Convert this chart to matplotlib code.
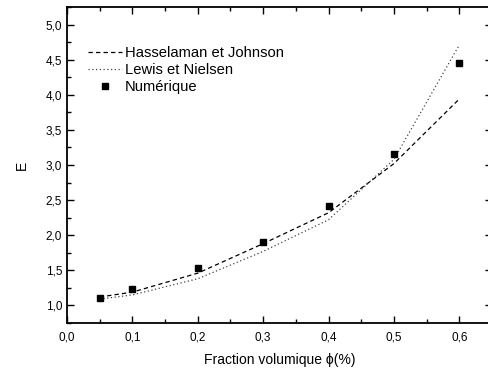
import matplotlib
matplotlib.use("Agg")
import matplotlib.pyplot as plt
from matplotlib.ticker import MultipleLocator, FuncFormatter

plt.rcParams['font.family'] = ['Liberation Sans', 'DejaVu Sans']

phi = [0.05, 0.1, 0.2, 0.3, 0.4, 0.5, 0.6]
hasselman = [1.12, 1.19, 1.46, 1.88, 2.32, 3.02, 3.94]
lewis = [1.09, 1.15, 1.38, 1.77, 2.22, 3.08, 4.71]
numerique = [1.11, 1.24, 1.53, 1.91, 2.42, 3.16, 4.45]

labels = ["Hasselaman et Johnson", "Lewis et Nielsen", "Numérique"]

fig = plt.figure(figsize=(4.89, 3.70), dpi=100)
ax = fig.add_axes([67/489, 1-323/370, 425/489, (323-7)/370])

ax.plot(phi, hasselman, color='black', linestyle=(0, (3.5, 2.5)), linewidth=0.9, label=labels[0])
ax.plot(phi, lewis, color='#444444', linestyle=(0, (1, 2)), linewidth=0.9, label=labels[1])
ax.plot(phi, numerique, linestyle='none', marker='s', markersize=5, color='black', label=labels[2])

ax.set_xlim(0, 0.65)
ax.set_ylim(0.75, 5.25)
ax.xaxis.set_major_locator(MultipleLocator(0.1))
ax.xaxis.set_minor_locator(MultipleLocator(0.05))
ax.yaxis.set_major_locator(MultipleLocator(0.5))
ax.yaxis.set_minor_locator(MultipleLocator(0.25))
ax.xaxis.set_major_formatter(FuncFormatter(lambda v, p: f"{v:.1f}".replace('.', ',')))
ax.yaxis.set_major_formatter(FuncFormatter(lambda v, p: f"{v:.1f}".replace('.', ',')))
ax.tick_params(which='both', direction='in', top=True, right=True, labelsize=8.5, width=1)
ax.tick_params(which='major', length=5)
ax.tick_params(which='minor', length=3)
ax.tick_params(axis='x', which='major', pad=6)
for s in ax.spines.values():
    s.set_linewidth(1.3)

ax.set_xlabel("Fraction volumique ϕ(%)", fontsize=10, labelpad=7)
ax.set_ylabel("E", fontsize=10, labelpad=12)

ax.legend(loc='upper left', frameon=False, fontsize=10.6, handlelength=2.3,
          handletextpad=0.2, labelspacing=0.2, bbox_to_anchor=(0.035, 0.895),
          borderaxespad=0)

fig.savefig("out.png", dpi=100)
